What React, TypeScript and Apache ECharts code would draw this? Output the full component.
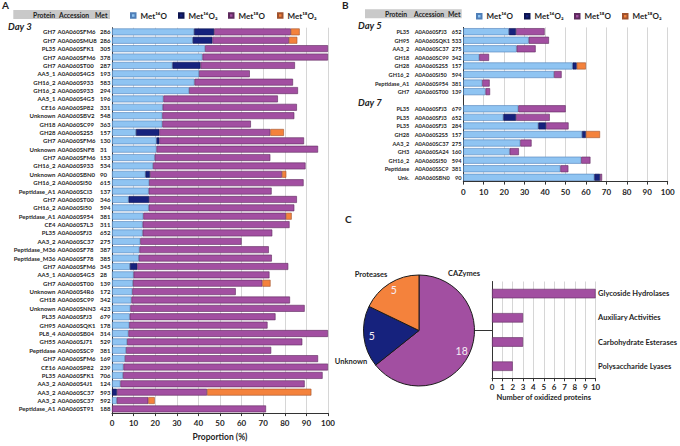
import { useEffect, useRef } from "react";
import * as echarts from "echarts";

const FONT = "Lato, 'DejaVu Sans', sans-serif";
const INK = "#1f1f1f";

const oxNames = ["Met¹⁶O", "Met¹⁶O₂", "Met¹⁸O", "Met¹⁸O₂"];
const oxColors = ["#8fc4f2", "#16227d", "#a24fa1", "#f4823c"];
const oxBorders = ["#4f7fb8", "#0c1450", "#5e2a5e", "#a0522d"];

// Panel A - day 3
const day3Protein = ["GH7", "GH7", "PL35", "GH7", "GH7", "AA5_1", "GH16_2", "GH16_2", "AA5_1", "CE16", "Unknown", "GH18", "GH28", "GH7", "Unknown", "GH7", "GH16_2", "Unknown", "GH16_2", "Peptidase_A1", "GH7", "GH16_2", "Peptidase_A1", "CE4", "PL35", "AA3_2", "Peptidase_M36", "Peptidase_M36", "GH7", "AA5_1", "GH7", "Unknown", "GH18", "Unknown", "PL35", "GH95", "PL8_4", "GH55", "Peptidase", "GH7", "CE16", "PL35", "AA3_2", "AA3_2", "AA3_2", "Peptidase_A1"];
const day3Accession = ["A0A060SFM6", "A0A060SMU8", "A0A060SFK1", "A0A060SFM6", "A0A060ST00", "A0A060S4G5", "A0A060S933", "A0A060S933", "A0A060S4G5", "A0A060SP82", "A0A060SBV2", "A0A060SC99", "A0A060S2S5", "A0A060SFM6", "A0A060SNF8", "A0A060SFM6", "A0A060S933", "A0A060SBN0", "A0A060SI50", "A0A060SCI3", "A0A060ST00", "A0A060SI50", "A0A060S954", "A0A060S7L3", "A0A060SFJ3", "A0A060SC37", "A0A060SF78", "A0A060SF78", "A0A060SFM6", "A0A060S4G5", "A0A060ST00", "A0A060S4R6", "A0A060SC99", "A0A060SNN3", "A0A060SFJ3", "A0A060SQK1", "A0A060SB04", "A0A060SJ71", "A0A060SSC9", "A0A060SFM6", "A0A060SP82", "A0A060SFK1", "A0A060S4J1", "A0A060SC37", "A0A060SC37", "A0A060ST91"];
const day3Met = ["286", "286", "305", "378", "287", "193", "583", "294", "196", "331", "548", "363", "157", "130", "31", "153", "534", "90", "615", "137", "346", "594", "381", "311", "652", "275", "387", "385", "345", "28", "139", "172", "342", "423", "679", "178", "314", "529", "381", "169", "239", "706", "124", "593", "592", "188"];
const day3M16O = [38, 37.4, 43.1, 41.9, 28, 40.3, 38.2, 35.7, 23.8, 23.5, 23.3, 23.3, 11.1, 20.6, 20.6, 19.8, 19, 15.5, 17.2, 17, 7.7, 17, 14.5, 14.2, 14.2, 13.1, 12.7, 12.4, 8.3, 10, 9.7, 9.4, 9, 8.5, 8.2, 8, 7.6, 7, 6.5, 6, 5.3, 5.1, 3.9, 0, 2.2, 0];
const day3M16O2 = [9.3, 9.1, 0, 0, 13, 0, 0, 0, 0, 0, 0, 0, 10.8, 1.3, 0, 0, 0, 2.1, 0, 0, 9.5, 0, 0, 0, 0, 0, 0, 0, 3.4, 0, 0, 0, 0, 0, 0, 0, 0, 0, 0, 0, 0, 0, 0, 2.3, 0, 0];
const day3M18O = [35.5, 35.4, 56.9, 58.1, 43.7, 23.5, 45.6, 50.4, 53, 62.1, 61.1, 41, 51.4, 67, 74.8, 53.5, 70.6, 61.1, 71.5, 56.9, 68.4, 67.4, 66, 68, 60, 46.9, 59.9, 61.6, 69.9, 62.9, 59.9, 47.9, 73.4, 80.7, 67.5, 64, 92.4, 81.1, 67.2, 89.4, 94.7, 92.4, 85.3, 41.7, 14.6, 71.3];
const day3M18O2 = [4.1, 3.9, 0, 0, 0, 0, 0, 0, 0, 0, 0, 0, 6.3, 0, 0, 0, 0, 2, 0, 0, 0, 0, 2.7, 0, 0, 0, 0, 0, 0, 0, 3.8, 0, 0, 0, 0, 0, 0, 0, 0, 0, 0, 0, 0, 48.3, 3, 0];

// Panel B - day 5
const day5Protein = ["PL35", "GH95", "AA3_2", "GH18", "GH28", "GH16_2", "Peptidase_A1", "GH7"];
const day5Accession = ["A0A060SFJ3", "A0A060SQK1", "A0A060SC37", "A0A060SC99", "A0A060S2S5", "A0A060SI50", "A0A060S954", "A0A060ST00"];
const day5Met = ["652", "533", "275", "342", "157", "594", "381", "139"];
const day5M16O = [22.3, 32, 26.1, 7.8, 53.5, 44.4, 9.3, 10.9];
const day5M16O2 = [3.5, 0, 0, 0, 2, 0, 0, 0];
const day5M18O = [14, 9.9, 9.3, 4.8, 0, 3.7, 3.6, 2.2];
const day5M18O2 = [0, 0, 0, 0, 4.5, 0, 0, 0];

// Panel B - day 7
const day7Protein = ["PL35", "PL35", "PL35", "GH28", "AA3_2", "GH3", "GH16_2", "Peptidase", "Unk."];
const day7Accession = ["A0A060SFJ3", "A0A060SFJ3", "A0A060SFJ3", "A0A060S2S5", "A0A060SC37", "A0A060SA24", "A0A060SI50", "A0A060SSC9", "A0A060SBN0"];
const day7Met = ["679", "652", "284", "157", "275", "160", "594", "381", "90"];
const day7M16O = [26.9, 19.6, 36.7, 58.1, 27.9, 22.7, 57.7, 47.5, 64.1];
const day7M16O2 = [0, 6.2, 3.8, 1.9, 0, 0, 0, 0, 2.8];
const day7M18O = [23.2, 16.5, 11, 0, 5.5, 4.5, 4.5, 3.9, 1];
const day7M18O2 = [0, 0, 0, 6.9, 0, 0, 0, 0, 0];

// Panel C
const pieNames = ["CAZymes", "Unknown", "Proteases"];
const pieCounts = [18, 5, 5];
const pieColors = ["#a24fa1", "#16227d", "#f4823c"];
const cazyClasses = ["Glycoside Hydrolases", "Auxiliary Activities", "Carbohydrate Esterases", "Polysaccharide Lyases"];
const cazyCounts = [10, 3, 3, 2];

const proportionTicks = [0, 10, 20, 30, 40, 50, 60, 70, 80, 90, 100];

const PIE = { cx: 419, cy: 330.5, r: 55.5 };
const C_GRID = { left: 492, top: 281.5, width: 108.7, height: 96.8 };

export default function App() {
  const ref = useRef<HTMLDivElement>(null);

  useEffect(() => {
    if (!ref.current) return;
    const chart = echarts.init(ref.current, null, { renderer: "svg" });

    const nz = (arr: (number | null)[]) => arr.map((v) => (v === 0 ? null : v));
    const colsA = [day3M16O, day3M16O2, day3M18O, day3M18O2];
    const colsB = [
      [...day5M16O, null, ...day7M16O],
      [...day5M16O2, null, ...day7M16O2],
      [...day5M18O, null, ...day7M18O],
      [...day5M18O2, null, ...day7M18O2],
    ];

    const stackSeries = (cols: any[], axisIndex: number, yIndex: number, stack: string) =>
      cols.map((col, i) => ({
        name: oxNames[i],
        type: "bar",
        stack,
        xAxisIndex: axisIndex,
        yAxisIndex: yIndex,
        data: nz(col),
        barWidth: "82%",
        itemStyle: { color: oxColors[i], borderColor: oxBorders[i], borderWidth: 0.6 },
        emphasis: { disabled: true },
      }));

    const labelAxis = (gridIndex: number, data: string[], label: any, showLine = false) => ({
      type: "category",
      gridIndex,
      data,
      inverse: true,
      position: "left",
      axisLine: { show: showLine, lineStyle: { color: "#333", width: 1 } },
      axisTick: { show: false },
      splitLine: { show: false },
      axisLabel: { interval: 0, fontFamily: FONT, fontWeight: "bold", color: INK, ...label },
    });

    const valueAxis = (gridIndex: number, extra: any) => ({
      type: "value",
      gridIndex,
      min: 0,
      max: 100,
      interval: 10,
      axisLine: { show: true, lineStyle: { color: "#333", width: 1 } },
      axisTick: { show: true, length: 3, lineStyle: { color: "#333" } },
      splitLine: { show: true, lineStyle: { color: "#d6d6d6", width: 1 } },
      axisLabel: {
        fontFamily: FONT,
        fontWeight: "bold",
        fontSize: 8,
        color: INK,
        margin: 6,
        customValues: proportionTicks,
      },
      ...extra,
    });

    const legendAt = (name: string, left: number, top: number) => ({
      data: [name],
      left,
      top,
      icon: "rect",
      itemWidth: 4.5,
      itemHeight: 4.5,
      padding: 0,
      itemGap: 0,
      selectedMode: false,
      textStyle: { fontFamily: FONT, fontWeight: "bold", fontSize: 8, color: INK },
    });

    const txt = (text: string, x: number, y: number, size: number, extra: any = {}) => ({
      type: "text",
      x,
      y,
      silent: true,
      style: {
        text,
        fontSize: size,
        fontWeight: "bold",
        fontFamily: FONT,
        fill: INK,
        textAlign: "left",
        align: "left",
        textVerticalAlign: "middle",
        verticalAlign: "middle",
        ...extra,
      },
    });
    const center = { textAlign: "center", align: "center" };

    const rowsB = [...day5Protein, "", ...day7Protein];
    const accB = [...day5Accession, "", ...day7Accession];
    const metB = [...day5Met, "", ...day7Met];

    chart.setOption({
      animation: false,
      backgroundColor: "#ffffff",
      textStyle: { fontFamily: FONT },
      legend: [
        legendAt(oxNames[0], 130, 11.5),
        legendAt(oxNames[1], 178, 11.5),
        legendAt(oxNames[2], 228, 11.5),
        legendAt(oxNames[3], 277, 11.5),
        legendAt(oxNames[0], 476, 12.2),
        legendAt(oxNames[1], 524, 12.2),
        legendAt(oxNames[2], 574, 12.2),
        legendAt(oxNames[3], 622, 12.2),
      ],
      grid: [
        { left: 112, top: 27.7, width: 216, height: 393.3 },
        { left: 463.3, top: 27.4, width: 204.4, height: 154.2 },
        { left: C_GRID.left, top: C_GRID.top, width: C_GRID.width, height: C_GRID.height },
      ],
      xAxis: [
        valueAxis(0, {
          name: "Proportion (%)",
          nameLocation: "middle",
          nameGap: 17,
          nameTextStyle: { fontFamily: FONT, fontWeight: "bold", fontSize: 8.5, color: INK },
        }),
        valueAxis(1, {}),
        {
          type: "value",
          gridIndex: 2,
          min: 0,
          max: 10,
          interval: 1,
          axisLine: { show: true, lineStyle: { color: "#333", width: 1 } },
          axisTick: { show: true, length: 3, lineStyle: { color: "#333" } },
          splitLine: { show: true, lineStyle: { color: "#d6d6d6", width: 1 } },
          axisLabel: { fontFamily: FONT, fontWeight: "bold", fontSize: 8, color: INK, margin: 5 },
          name: "Number of oxidized proteins",
          nameLocation: "middle",
          nameGap: 15.5,
          nameTextStyle: { fontFamily: FONT, fontWeight: "bold", fontSize: 7.5, color: INK },
        },
      ],
      yAxis: [
        labelAxis(0, day3Protein, { fontSize: 6, margin: 56.5, align: "right" }, true),
        labelAxis(0, day3Accession, { fontSize: 6, margin: 54.5, align: "left" }),
        labelAxis(0, day3Met, { fontSize: 6, margin: 12, align: "left" }),
        labelAxis(1, rowsB, { fontSize: 5.6, margin: 54, align: "right" }, true),
        labelAxis(1, accB, { fontSize: 5.6, margin: 48.6, align: "left" }),
        labelAxis(1, metB, { fontSize: 5.6, margin: 1.8, align: "right" }),
        { ...labelAxis(2, cazyClasses, { show: false }, true) },
        {
          ...labelAxis(2, cazyClasses, { fontSize: 7.5, margin: 2.5, align: "left" }),
          position: "right",
        },
      ],
      series: [
        ...stackSeries(colsA, 0, 0, "day3"),
        ...stackSeries(colsB, 1, 3, "day57"),
        {
          name: "CAZyme classes",
          type: "bar",
          xAxisIndex: 2,
          yAxisIndex: 6,
          data: cazyCounts,
          barWidth: "39%",
          itemStyle: { color: "#a24fa1", borderColor: "#5e2a5e", borderWidth: 0.6 },
          emphasis: { disabled: true },
        },
        {
          name: "Oxidized proteins",
          type: "pie",
          center: [PIE.cx, PIE.cy],
          radius: [0, PIE.r],
          startAngle: 90,
          clockwise: true,
          silent: true,
          label: { show: false },
          labelLine: { show: false },
          data: pieNames.map((n, i) => ({
            name: n,
            value: pieCounts[i],
            itemStyle: { color: pieColors[i], borderColor: "#1a1a1a", borderWidth: 1 },
          })),
        },
        {
          name: "Counts",
          type: "pie",
          center: [PIE.cx, PIE.cy],
          radius: [PIE.r * 0.6, PIE.r],
          startAngle: 90,
          clockwise: true,
          silent: true,
          z: 3,
          itemStyle: { color: "rgba(0,0,0,0)", borderWidth: 0 },
          label: {
            show: true,
            position: "inside",
            formatter: "{c}",
            fontFamily: FONT,
            fontSize: 10.5,
            color: "#f6eef6",
          },
          labelLine: { show: false },
          data: pieNames.map((n, i) => ({ name: n, value: pieCounts[i] })),
        },
      ],
      graphic: [
        txt("A", 2, 5, 10),
        { type: "rect", shape: { x: 13.3, y: 10, width: 96.7, height: 9 }, style: { fill: "#c9c9c9" }, silent: true },
        txt("Protein", 33, 14.5, 6.8),
        txt("Accession", 59, 14.5, 6.8),
        txt("Met", 95, 14.5, 6.8),
        txt("Day 3", 8, 26.7, 9.5, { fontStyle: "italic" }),

        txt("B", 342, 4.5, 10),
        { type: "rect", shape: { x: 365, y: 9.3, width: 96.7, height: 9 }, style: { fill: "#c9c9c9" }, silent: true },
        txt("Protein", 385, 13.8, 6.8),
        txt("Accession", 414, 13.8, 6.8),
        txt("Met", 448, 13.8, 6.8),
        txt("Day 5", 358, 25, 9.5, { fontStyle: "italic" }),
        txt("Day 7", 358, 102.7, 9.5, { fontStyle: "italic" }),

        txt("C", 345, 219, 10),
        txt("Proteases", 371, 274.3, 7.5, center),
        txt("CAZymes", 464, 273.3, 7.5, center),
        txt("Unknown", 351, 361.7, 7.5, center),
        {
          type: "line",
          silent: true,
          shape: { x1: PIE.cx + PIE.r, y1: PIE.cy, x2: C_GRID.left, y2: PIE.cy },
          style: { stroke: "#333", lineWidth: 1 },
        },
      ],
    });

    return () => chart.dispose();
  }, []);

  return (
    <div
      ref={ref}
      style={{ position: "fixed", left: 0, top: 0, width: 680, height: 446, background: "#fff" }}
    />
  );
}
